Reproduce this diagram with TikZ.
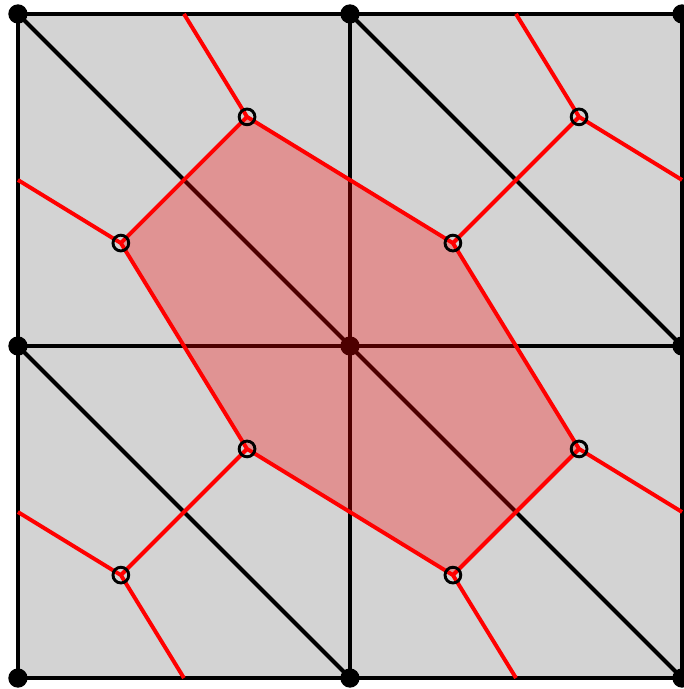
\documentclass[tikz,border=0pt]{standalone}
\usepackage{tikz}
\usetikzlibrary{calc}
\definecolor{meshgray}{RGB}{211,211,211}
\tikzset{
  meshedge/.style={black,line width=1.4pt},
  dualedge/.style={red,line width=1.35pt},
  dualpt/.style={black,line width=1pt},
}

\begin{document}
\begin{tikzpicture}[x=4cm,y=4cm]
  \useasboundingbox (-0.054,-0.033) rectangle (2.003,2.042);

  % --- mesh vertices ---
  \foreach \i in {0,1,2}
    \foreach \j in {0,1,2}
      \coordinate (v\i\j) at (\i,\j);

  % --- dual points and edge midpoints, per square ---
  \def\dualoff{0.19}
  \foreach \i in {0,1}
    \foreach \j in {0,1} {
      \coordinate (up\i\j) at (\i+0.5+\dualoff,\j+0.5+\dualoff);
      \coordinate (lo\i\j) at (\i+0.5-\dualoff,\j+0.5-\dualoff);
      \coordinate (top\i\j) at (\i+0.5,\j+1);
      \coordinate (bot\i\j) at (\i+0.5,\j);
      \coordinate (lft\i\j) at (\i,\j+0.5);
      \coordinate (rgt\i\j) at (\i+1,\j+0.5);
    }

  % --- background ---
  \fill[meshgray] (v00) rectangle (v22);

  % --- mesh edges (black) ---
  \foreach \k in {0,1,2} {
    \draw[meshedge] (v\k0) -- (v\k2);
    \draw[meshedge] (v0\k) -- (v2\k);
  }
  \draw[meshedge] (v02) -- (v20);
  \draw[meshedge] (v01) -- (v10);
  \draw[meshedge] (v12) -- (v21);

  % mesh vertices
  \foreach \i in {0,1,2}
    \foreach \j in {0,1,2}
      \fill (v\i\j) circle[radius=3.3pt];

  % --- dual cell of the centre vertex ---
  \fill[red,opacity=0.3] (up00) -- (lo01) -- (up01) -- (lo11)
    -- (up10) -- (lo10) -- cycle;

  % --- dual edges (red) ---
  \foreach \i in {0,1}
    \foreach \j in {0,1} {
      \draw[dualedge] (top\i\j) -- (up\i\j) -- (rgt\i\j);
      \draw[dualedge] (lft\i\j) -- (lo\i\j) -- (bot\i\j);
      \draw[dualedge] (up\i\j) -- (lo\i\j);
    }

  % dual points
  \foreach \i in {0,1}
    \foreach \j in {0,1} {
      \draw[dualpt] (up\i\j) circle[radius=2.7pt];
      \draw[dualpt] (lo\i\j) circle[radius=2.7pt];
    }

\end{tikzpicture}
\end{document}
